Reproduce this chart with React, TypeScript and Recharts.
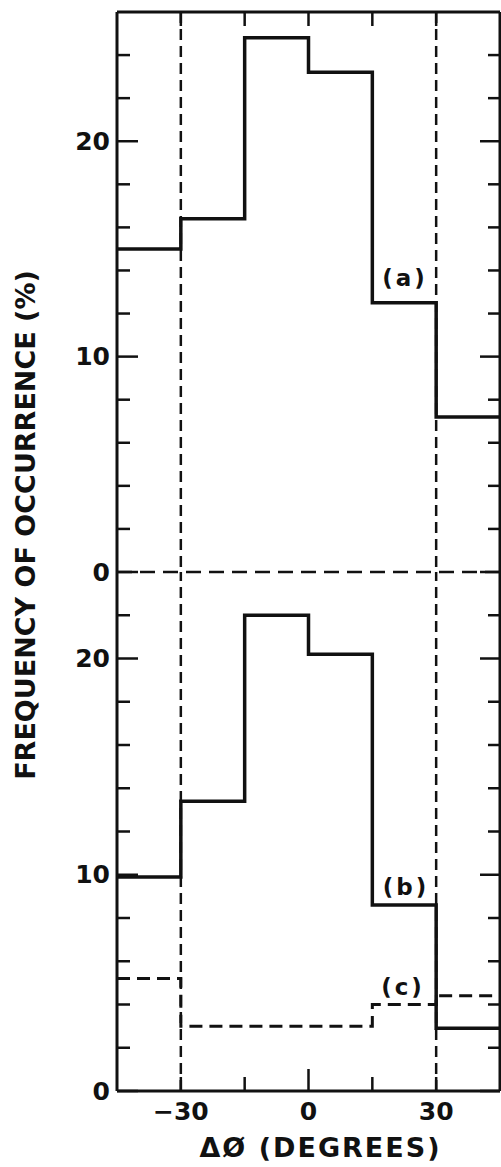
import React from 'react';
import { LineChart, Line, XAxis, YAxis, ReferenceLine, ReferenceDot, Label } from 'recharts';

// bin edges of the histogram (degrees) and frequency (%) per bin
const binEdges = [-45, -30, -15, 0, 15, 30, 45];
const freqA = [15.0, 16.4, 24.8, 23.2, 12.5, 7.2];
const freqB = [9.9, 13.4, 22.0, 20.2, 8.6, 2.9];
const freqC = [5.2, 3.0, 3.0, 3.0, 4.0, 4.4];

const xTicks = [-30, -15, 0, 15, 30];
const xTickLabels = [-30, 0, 30];
const topYTicks = [0, 2, 4, 6, 8, 10, 12, 14, 16, 18, 20, 22, 24];
const bottomYTicks = [0, 2, 4, 6, 8, 10, 12, 14, 16, 18, 20, 22];
const yTickLabels = [0, 10, 20];

const FONT = '"DejaVu Sans", sans-serif';
const INK = '#111';

// stepAfter needs the last value repeated on the right edge
const stepValue = (vals: number[], i: number) => vals[Math.min(i, vals.length - 1)];
const topRows = binEdges.map((x, i) => ({ x, a: stepValue(freqA, i) }));
const bottomRows = binEdges.map((x, i) => ({ x, b: stepValue(freqB, i), c: stepValue(freqC, i) }));

const LeftTick = (props: any) => {
  const { x, y, payload } = props;
  const major = yTickLabels.includes(payload.value);
  return (
    <g>
      <line x1={x} x2={x + (major ? 21 : 13)} y1={y} y2={y} stroke={INK} strokeWidth={2.5} />
      {major && (
        <text x={x - 7} y={y} textAnchor="end" dominantBaseline="central" fontFamily={FONT} fontWeight="bold" fontSize={25} fill={INK}>
          {payload.value}
        </text>
      )}
    </g>
  );
};

const RightTick = (props: any) => {
  const { x, y, payload } = props;
  const major = yTickLabels.includes(payload.value);
  return <line x1={x} x2={x - (major ? 20 : 12)} y1={y} y2={y} stroke={INK} strokeWidth={2.5} />;
};

const TopTick = (props: any) => {
  const { x, y } = props;
  return <line x1={x} x2={x} y1={y} y2={y + 14} stroke={INK} strokeWidth={2.5} />;
};

const BottomTick = (props: any) => {
  const { x, y, payload } = props;
  const v = payload.value;
  return (
    <g>
      <line x1={x} x2={x} y1={y} y2={y - (v === 0 ? 22 : 14)} stroke={INK} strokeWidth={2.5} />
      {xTickLabels.includes(v) && (
        <text x={x} y={y + 20} textAnchor="middle" dominantBaseline="central" fontFamily={FONT} fontWeight="bold" fontSize={25} fill={INK}>
          {v < 0 ? `\u2212${-v}` : v}
        </text>
      )}
    </g>
  );
};

const annot = (value: string) => ({
  value,
  position: 'center' as const,
  fontFamily: FONT,
  fontWeight: 'bold',
  fontSize: 23,
  letterSpacing: 3,
  fill: INK,
});

const App = () => {
  return (
    <div style={{ position: 'absolute', left: 0, top: 0, width: 501, height: 1167, background: '#fff' }}>
      <div style={{ position: 'absolute', left: 0, top: 0 }}>
        <LineChart width={501} height={1167} data={topRows} margin={{ top: 11, right: 0, bottom: 595, left: 57 }}>
          <XAxis
            dataKey="x"
            type="number"
            orientation="top"
            height={1}
            domain={[-45, 45]}
            allowDataOverflow
            ticks={xTicks}
            interval={0}
            tickSize={0}
            tickMargin={0}
            tick={<TopTick />}
            axisLine={{ stroke: INK, strokeWidth: 3 }}
          />
          <YAxis
            width={60}
            domain={[0, 26]}
            allowDataOverflow
            ticks={topYTicks}
            interval={0}
            tickSize={0}
            tickMargin={0}
            tick={<LeftTick />}
            axisLine={{ stroke: INK, strokeWidth: 3 }}
          >
            <Label
              content={() => (
                <text
                  x={25}
                  y={525}
                  transform="rotate(-90 25 525)"
                  textAnchor="middle"
                  dominantBaseline="central"
                  fontFamily={FONT}
                  fontWeight="bold"
                  fontSize={27}
                  fill={INK}
                >
                  FREQUENCY OF OCCURRENCE (%)
                </text>
              )}
            />
          </YAxis>
          <YAxis
            yAxisId="right"
            orientation="right"
            width={1}
            domain={[0, 26]}
            allowDataOverflow
            ticks={topYTicks}
            interval={0}
            tickSize={0}
            tickMargin={0}
            tick={<RightTick />}
            axisLine={{ stroke: INK, strokeWidth: 3 }}
          />
          <ReferenceLine y={0} stroke={INK} strokeWidth={2.5} strokeDasharray="15 8" />
          <ReferenceLine x={-30} stroke={INK} strokeWidth={2.5} strokeDasharray="11 6" />
          <ReferenceLine x={30} stroke={INK} strokeWidth={2.5} strokeDasharray="11 6" />
          <Line type="stepAfter" dataKey="a" stroke={INK} strokeWidth={3.5} dot={false} isAnimationActive={false} />
          <ReferenceDot x={22.7} y={13.65} r={0} fill="none" stroke="none" label={annot('(a)')} />
        </LineChart>
      </div>
      <div style={{ position: 'absolute', left: 0, top: 0 }}>
        <LineChart width={501} height={1167} data={bottomRows} margin={{ top: 572, right: 0, bottom: 0, left: 57 }}>
          <XAxis
            dataKey="x"
            type="number"
            height={76}
            domain={[-45, 45]}
            allowDataOverflow
            ticks={xTicks}
            interval={0}
            tickSize={0}
            tickMargin={0}
            tick={<BottomTick />}
            axisLine={{ stroke: INK, strokeWidth: 3 }}
          >
            <Label
              value={'\u0394\u00D8  (DEGREES)'}
              position="insideBottom"
              offset={10}
              dx={12}
              fontFamily={FONT}
              fontWeight="bold"
              fontSize={27}
              letterSpacing={2}
              fill={INK}
            />
          </XAxis>
          <YAxis
            width={60}
            domain={[0, 24]}
            allowDataOverflow
            ticks={bottomYTicks}
            interval={0}
            tickSize={0}
            tickMargin={0}
            tick={<LeftTick />}
            axisLine={{ stroke: INK, strokeWidth: 3 }}
          />
          <YAxis
            yAxisId="right"
            orientation="right"
            width={1}
            domain={[0, 24]}
            allowDataOverflow
            ticks={bottomYTicks}
            interval={0}
            tickSize={0}
            tickMargin={0}
            tick={<RightTick />}
            axisLine={{ stroke: INK, strokeWidth: 3 }}
          />
          <ReferenceLine x={-30} stroke={INK} strokeWidth={2.5} strokeDasharray="11 6" />
          <ReferenceLine x={30} stroke={INK} strokeWidth={2.5} strokeDasharray="11 6" />
          <Line type="stepAfter" dataKey="b" stroke={INK} strokeWidth={3.5} dot={false} isAnimationActive={false} />
          <Line type="stepAfter" dataKey="c" stroke={INK} strokeWidth={3} strokeDasharray="13 7" dot={false} isAnimationActive={false} />
          <ReferenceDot x={22.9} y={9.45} r={0} fill="none" stroke="none" label={annot('(b)')} />
          <ReferenceDot x={22.2} y={4.8} r={0} fill="none" stroke="none" label={annot('(c)')} />
        </LineChart>
      </div>
    </div>
  );
};

export default App;
